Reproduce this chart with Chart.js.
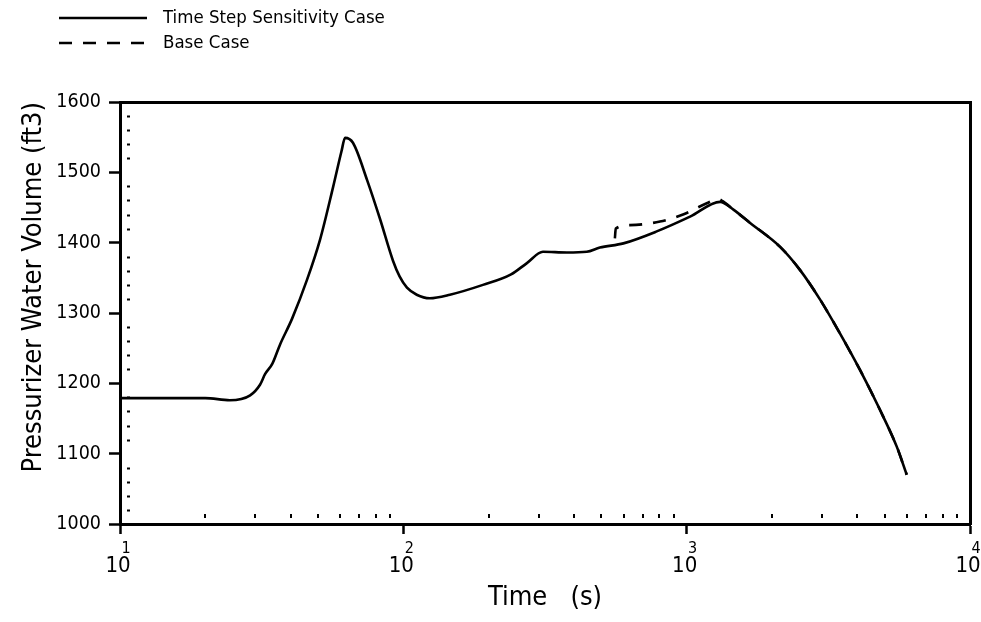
<!DOCTYPE html>
<html lang="en">
<head>
<meta charset="UTF-8" />
<title>Pressurizer Water Volume</title>
<script src="https://cdn.jsdelivr.net/npm/chart.js@4.4.1/dist/chart.umd.min.js"></script>
<style>
  html, body { margin: 0; padding: 0; background: #fff; }
  #wrap { width: 981px; height: 622px; }
</style>
</head>
<body>
<div id="wrap"><canvas id="chart"></canvas></div>
<script>
const FONT = '"DejaVu Sans Condensed", "Liberation Sans Narrow", "DejaVu Sans", sans-serif';

// Time Step Sensitivity Case (time in s, volume in ft3)
const sensTime = [10, 20, 24.4, 28.8, 31.2, 32.5, 34.5, 36.7, 40.5, 45.7, 50.8, 56.5, 60.5, 62.3,
  66.4, 74.5, 82.7, 92, 97, 103, 111.5, 124, 146, 191, 240, 273, 311, 378, 444, 494, 598, 784,
  1028, 1312, 1462, 1675, 2137, 2514, 2958, 3475, 4090, 4815, 5514, 5980];
const sensVolume = [1179, 1179, 1176, 1183, 1198, 1213, 1228, 1255, 1292, 1347, 1404, 1479, 1530, 1549,
  1542, 1489, 1434, 1374, 1352, 1336, 1326, 1321, 1326, 1340, 1355, 1371, 1387, 1386, 1387, 1393, 1399, 1416,
  1437, 1458, 1447, 1428, 1394, 1361, 1319, 1271, 1219, 1162, 1110, 1070];

// Base Case
const baseTime = [558, 562, 631, 805, 971, 1177, 1291, 1340, 1462, 1675, 2137, 2514, 2958, 3475, 4090, 4815, 5514, 5980];
const baseVolume = [1406, 1420, 1425, 1430, 1440, 1456, 1462, 1459, 1447, 1428, 1394, 1361, 1319, 1271, 1219, 1162, 1110, 1070];

// axes
const xMajor = [10, 100, 1000, 10000];
const xExponent = ["1", "2", "3", "4"];
const yMin = 1000, yMax = 1600, yStep = 100;

const xMinor = [];
for (let d = 10; d < 10000; d *= 10) for (let k = 2; k <= 9; k++) xMinor.push(d * k);
const yMinor = [];
for (let v = yMin + 20; v < yMax; v += 20) if (v % 100 !== 0) yMinor.push(v);

const points = (xs, ys) => xs.map((t, i) => ({ x: t, y: ys[i] }));

const extras = {
  id: "extras",
  afterDraw(chart) {
    const { ctx, chartArea: a, scales } = chart;
    const x = scales.x, y = scales.y;
    ctx.save();
    ctx.strokeStyle = "#000";
    ctx.fillStyle = "#000";
    ctx.lineWidth = 2;
    // minor ticks inside the frame
    ctx.beginPath();
    yMinor.forEach(v => {
      const py = Math.round(y.getPixelForValue(v)) + 0.5;
      ctx.moveTo(a.left + 7, py); ctx.lineTo(a.left + 10, py);
    });
    xMinor.forEach(v => {
      const px = Math.round(x.getPixelForValue(v));
      ctx.moveTo(px, a.bottom - 10); ctx.lineTo(px, a.bottom - 6);
    });
    ctx.stroke();

    // x labels 10^n
    ctx.textAlign = "center";
    ctx.textBaseline = "alphabetic";
    xMajor.forEach((v, i) => {
      const px = x.getPixelForValue(v);
      ctx.font = "22px " + FONT;
      ctx.fillText("10", px - 2, a.bottom + 48);
      ctx.font = "16px " + FONT;
      ctx.fillText(xExponent[i], px + 6, a.bottom + 29);
    });

    // legend
    ctx.font = "18.5px " + FONT;
    ctx.textAlign = "left";
    ctx.textBaseline = "middle";
    chart.data.datasets.forEach((ds, i) => {
      const ly = 18 + 25 * i;
      ctx.lineWidth = 2.5;
      ctx.setLineDash(ds.borderDash || []);
      ctx.beginPath();
      ctx.moveTo(59, ly); ctx.lineTo(147, ly);
      ctx.stroke();
      ctx.setLineDash([]);
      ctx.fillText(ds.label, 163, ly);
    });
    ctx.restore();
  }
};

new Chart(document.getElementById("chart"), {
  type: "line",
  data: {
    datasets: [
      {
        label: "Time Step Sensitivity Case",
        data: points(sensTime, sensVolume),
        borderColor: "#000",
        borderWidth: 2.6,
        pointRadius: 0,
        cubicInterpolationMode: "monotone",
        fill: false
      },
      {
        label: "Base Case",
        data: points(baseTime, baseVolume),
        borderColor: "#000",
        borderWidth: 2.6,
        borderDash: [13, 11],
        pointRadius: 0,
        cubicInterpolationMode: "monotone",
        fill: false
      }
    ]
  },
  options: {
    responsive: true,
    maintainAspectRatio: false,
    animation: false,
    layout: { padding: { top: 102, right: 11, left: 0, bottom: 0 } },
    plugins: { legend: { display: false }, tooltip: { enabled: false } },
    scales: {
      x: {
        type: "logarithmic",
        position: "bottom",
        min: 10,
        max: 10000,
        afterBuildTicks: s => { s.ticks = xMajor.map(v => ({ value: v })); },
        afterFit: s => { s.height = 98; },
        ticks: { display: false },
        grid: { display: true, drawOnChartArea: false, drawTicks: true, tickLength: 10, tickWidth: 2.5, color: "#000" },
        border: { display: true, width: 3, color: "#000" },
        title: {
          display: true,
          text: "Time   (s)",
          color: "#000",
          font: { family: FONT, size: 27 },
          padding: { top: 0, bottom: 8 }
        }
      },
      y: {
        position: "left",
        min: yMin,
        max: yMax,
        afterFit: s => { s.width = 120; },
        ticks: {
          stepSize: yStep,
          color: "#000",
          padding: 8,
          font: { family: FONT, size: 19.5 },
          callback: v => String(v)
        },
        grid: { display: true, drawOnChartArea: false, drawTicks: true, tickLength: 11, tickWidth: 2.5, color: "#000" },
        border: { display: true, width: 3, color: "#000" },
        title: {
          display: true,
          text: "Pressurizer Water Volume (ft3)",
          align: "end",
          color: "#000",
          font: { family: FONT, size: 27 },
          padding: { top: 18, bottom: 0 }
        }
      },
      xTop: {
        type: "logarithmic",
        position: "top",
        min: 10,
        max: 10000,
        afterFit: s => { s.height = 0; },
        ticks: { display: false },
        grid: { display: false },
        border: { display: true, width: 3, color: "#000" }
      },
      yRight: {
        position: "right",
        min: yMin,
        max: yMax,
        afterFit: s => { s.width = 0; },
        ticks: { display: false },
        grid: { display: false },
        border: { display: true, width: 3, color: "#000" }
      }
    }
  },
  plugins: [extras]
});
</script>
</body>
</html>
